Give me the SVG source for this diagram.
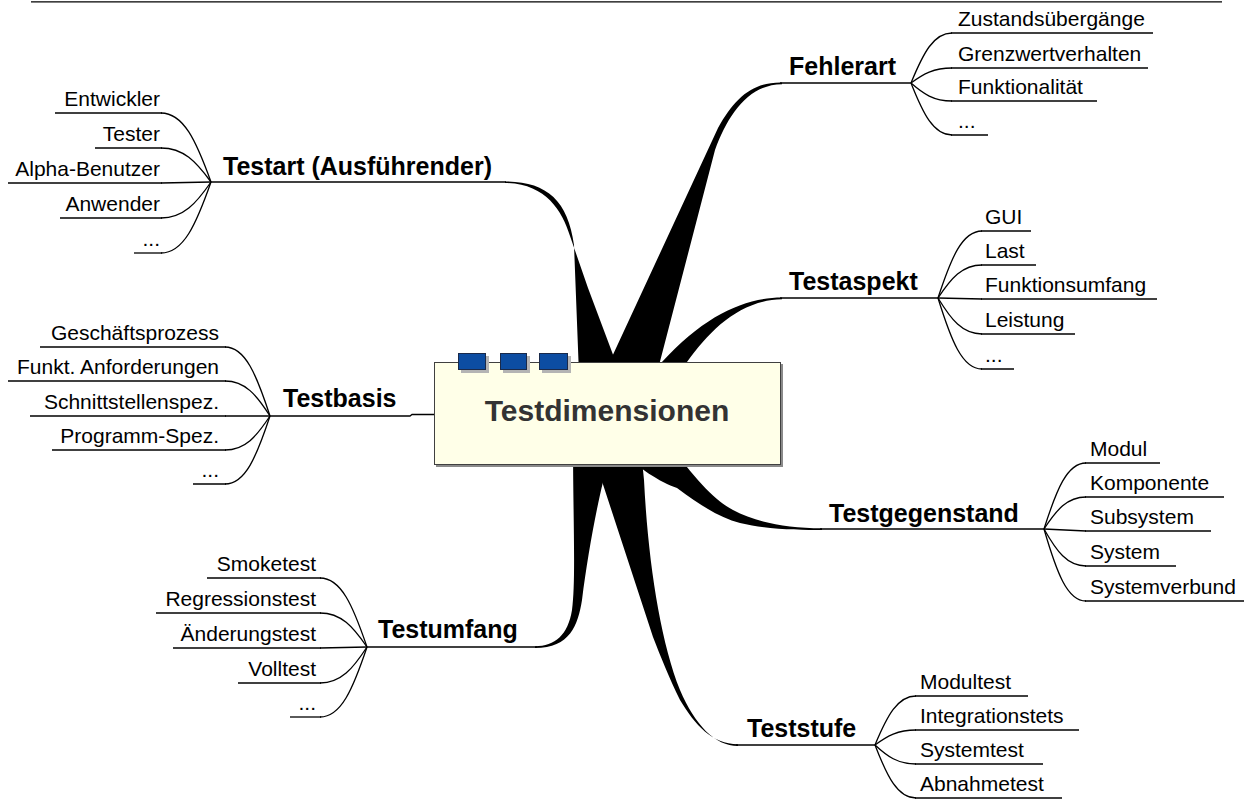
<svg xmlns="http://www.w3.org/2000/svg" width="1244" height="801" viewBox="0 0 1244 801">
<style>
.lbl{font-family:"Liberation Sans",Arial,sans-serif;font-weight:bold;font-size:25px;fill:#000}
.itm{font-family:"Liberation Sans",Arial,sans-serif;font-size:21px;fill:#000}
.end{text-anchor:end}
.ln{fill:none;stroke:#000;stroke-width:1.3}
.br{fill:#000;stroke:none}
.sq{fill:#0C4DA2;stroke:#1a2a4a;stroke-width:1}
.sqs{fill:#b4b4b4}
</style>
<rect width="1244" height="801" fill="#fff"/>
<line x1="31" y1="1.8" x2="1222" y2="1.8" stroke="#000" stroke-width="1.3"/>

<g id="connectors">
  <!-- main tapered branches -->
  <path class="br" d="M 505,181.5 C 546,181.5 568,200 574,245 L 580,400 L 630,400 L 588,288 L 570,236 C 562,210 545,183.5 505,183 Z"/>
  <path class="br" d="M 782,82.5 C 752,82 735,98 718,128 L 592,400 L 650,400 L 715,150 C 728,115 748,84.5 782,84.2 Z"/>
  <path class="br" d="M 782,297.5 C 745,297.5 705,315 662,362 L 625,400 L 660,400 L 687,362 C 710,330 740,300 782,299.3 Z"/>
  <path class="br" d="M 822,528.3 C 785,528 755,522 733,510 C 715,500 700,485 670,445 L 615,445 C 640,470 660,482 677,488 C 700,505 720,518 740,523 C 770,530 800,530 822,530 Z"/>
  <path class="br" d="M 738,744.3 C 712,744 695,725 680,700 C 670,680 660,655 653,637 L 595,460 L 595,440 L 640,440 L 644,480 C 648,560 660,640 680,690 C 695,725 715,746 738,746 Z"/>
  <path class="br" d="M 535,646.3 C 555,646 568,635 572,610 C 576,580 573,520 573,440 L 603,440 L 603,482 C 595,515 587,560 582,600 C 578,625 570,648 535,648 Z"/>
  <path class="ln" d="M 270,416 H 410 L 412,414.5 H 436"/>

  <!-- Fehlerart fan -->
  <path class="ln" d="M 911,83 C 923.3,53 933.6,33 952,33"/>
  <path class="ln" d="M 911,83 C 923.3,74 933.6,68 952,68"/>
  <path class="ln" d="M 911,83 C 923.3,93.8 933.6,101 952,101"/>
  <path class="ln" d="M 911,83 C 923.3,114.2 933.6,135 952,135"/>
  <!-- Testaspekt fan -->
  <path class="ln" d="M 938,298 C 951.2,257.8 962.2,231 982,231"/>
  <path class="ln" d="M 938,298 C 951.2,278.2 962.2,265 982,265"/>
  <path class="ln" d="M 938,298 L 982,299"/>
  <path class="ln" d="M 938,298 C 951.2,319.6 962.2,334 982,334"/>
  <path class="ln" d="M 938,298 C 951.2,340.6 962.2,369 982,369"/>
  <!-- Testgegenstand fan -->
  <path class="ln" d="M 1044,529 C 1056.6,489.4 1067.1,463 1086,463"/>
  <path class="ln" d="M 1044,529 C 1056.6,509.8 1067.1,497 1086,497"/>
  <path class="ln" d="M 1044,529 L 1086,531"/>
  <path class="ln" d="M 1044,529 C 1056.6,551.2 1067.1,566 1086,566"/>
  <path class="ln" d="M 1044,529 C 1056.6,572.2 1067.1,601 1086,601"/>
  <!-- Teststufe fan -->
  <path class="ln" d="M 875,745 C 887.3,715.6 897.6,696 916,696"/>
  <path class="ln" d="M 875,745 C 887.3,736 897.6,730 916,730"/>
  <path class="ln" d="M 875,745 C 887.3,756.4 897.6,764 916,764"/>
  <path class="ln" d="M 875,745 C 887.3,776.8 897.6,798 916,798"/>
  <!-- Testart fan -->
  <path class="ln" d="M 211,182 C 196,140.6 183.5,113 161,113"/>
  <path class="ln" d="M 211,182 C 196,161.6 183.5,148 161,148"/>
  <path class="ln" d="M 211,182 L 161,183"/>
  <path class="ln" d="M 211,182 C 196,203.6 183.5,218 161,218"/>
  <path class="ln" d="M 211,182 C 196,224.6 183.5,253 161,253"/>
  <!-- Testbasis fan -->
  <path class="ln" d="M 270,416 C 256.5,374.6 245.25,347 225,347"/>
  <path class="ln" d="M 270,416 C 256.5,395 245.25,381 225,381"/>
  <path class="ln" d="M 270,416 L 225,416"/>
  <path class="ln" d="M 270,416 C 256.5,436.4 245.25,450 225,450"/>
  <path class="ln" d="M 270,416 C 256.5,456.8 245.25,484 225,484"/>
  <!-- Testumfang fan -->
  <path class="ln" d="M 367,647 C 352.9,605.6 341.15,578 320,578"/>
  <path class="ln" d="M 367,647 C 352.9,626.6 341.15,613 320,613"/>
  <path class="ln" d="M 367,647 L 320,648"/>
  <path class="ln" d="M 367,647 C 352.9,668.6 341.15,683 320,683"/>
  <path class="ln" d="M 367,647 C 352.9,689 341.15,717 320,717"/>
</g>

<g id="center">
  <rect x="436" y="364" width="347" height="103" fill="#8a8a8a"/>
  <rect x="434.5" y="362.5" width="346" height="102" fill="#FFFFE8" stroke="#404040" stroke-width="1"/>
  <rect class="sqs" x="461" y="356" width="28" height="17"/>
  <rect class="sq" x="458.5" y="353.5" width="27" height="16"/>
  <rect class="sqs" x="503" y="356" width="27" height="17"/>
  <rect class="sq" x="500.5" y="353.5" width="26" height="16"/>
  <rect class="sqs" x="542" y="356" width="29" height="17"/>
  <rect class="sq" x="539.5" y="353.5" width="28" height="16"/>
  <text x="607" y="421" text-anchor="middle" style="font-family:'Liberation Sans',Arial,sans-serif;font-weight:bold;font-size:30px;fill:#333">Testdimensionen</text>
</g>

<g id="fehlerart">
  <line class="ln" x1="780" y1="83" x2="911" y2="83"/>
  <text class="lbl" x="789" y="75">Fehlerart</text>
</g>
<g id="fehlerart-items">
  <g id="f1"><line class="ln" x1="951" y1="33" x2="1153" y2="33"/><text class="itm" x="958" y="26">Zustandsübergänge</text></g>
  <g id="f2"><line class="ln" x1="951" y1="68" x2="1148" y2="68"/><text class="itm" x="958" y="61">Grenzwertverhalten</text></g>
  <g id="f3"><line class="ln" x1="951" y1="101" x2="1097" y2="101"/><text class="itm" x="958" y="94">Funktionalität</text></g>
  <g id="f4"><line class="ln" x1="951" y1="135" x2="988" y2="135"/><text class="itm" x="958" y="128">...</text></g>
</g>

<g id="testaspekt">
  <line class="ln" x1="780" y1="298" x2="938" y2="298"/>
  <text class="lbl" x="789" y="290">Testaspekt</text>
</g>
<g id="testaspekt-items">
  <g id="a1"><line class="ln" x1="981" y1="231" x2="1031" y2="231"/><text class="itm" x="985" y="224">GUI</text></g>
  <g id="a2"><line class="ln" x1="981" y1="265" x2="1036" y2="265"/><text class="itm" x="985" y="258">Last</text></g>
  <g id="a3"><line class="ln" x1="981" y1="299" x2="1157" y2="299"/><text class="itm" x="985" y="292">Funktionsumfang</text></g>
  <g id="a4"><line class="ln" x1="981" y1="334" x2="1075" y2="334"/><text class="itm" x="985" y="327">Leistung</text></g>
  <g id="a5"><line class="ln" x1="981" y1="369" x2="1014" y2="369"/><text class="itm" x="985" y="362">...</text></g>
</g>

<g id="testgegenstand">
  <line class="ln" x1="820" y1="529" x2="1044" y2="529"/>
  <text class="lbl" x="829" y="522">Testgegenstand</text>
</g>
<g id="testgegenstand-items">
  <g id="g1"><line class="ln" x1="1085" y1="463" x2="1160" y2="463"/><text class="itm" x="1090" y="456">Modul</text></g>
  <g id="g2"><line class="ln" x1="1085" y1="497" x2="1224" y2="497"/><text class="itm" x="1090" y="490">Komponente</text></g>
  <g id="g3"><line class="ln" x1="1085" y1="531" x2="1211" y2="531"/><text class="itm" x="1090" y="524">Subsystem</text></g>
  <g id="g4"><line class="ln" x1="1085" y1="566" x2="1176" y2="566"/><text class="itm" x="1090" y="559">System</text></g>
  <g id="g5"><line class="ln" x1="1085" y1="601" x2="1244" y2="601"/><text class="itm" x="1090" y="594">Systemverbund</text></g>
</g>

<g id="teststufe">
  <line class="ln" x1="736" y1="745" x2="875" y2="745"/>
  <text class="lbl" x="747" y="737">Teststufe</text>
</g>
<g id="teststufe-items">
  <g id="s1"><line class="ln" x1="915" y1="696" x2="1028" y2="696"/><text class="itm" x="920" y="689">Modultest</text></g>
  <g id="s2"><line class="ln" x1="915" y1="730" x2="1079" y2="730"/><text class="itm" x="920" y="723">Integrationstets</text></g>
  <g id="s3"><line class="ln" x1="915" y1="764" x2="1043" y2="764"/><text class="itm" x="920" y="757">Systemtest</text></g>
  <g id="s4"><line class="ln" x1="915" y1="798" x2="1062" y2="798"/><text class="itm" x="920" y="791">Abnahmetest</text></g>
</g>

<g id="testart">
  <line class="ln" x1="211" y1="182" x2="506" y2="182"/>
  <text class="lbl" x="223" y="175">Testart (Ausführender)</text>
</g>
<g id="testart-items">
  <g id="t1"><line class="ln" x1="55" y1="113" x2="162" y2="113"/><text class="itm end" x="160" y="106">Entwickler</text></g>
  <g id="t2"><line class="ln" x1="95" y1="148" x2="162" y2="148"/><text class="itm end" x="160" y="141">Tester</text></g>
  <g id="t3"><line class="ln" x1="8" y1="183" x2="162" y2="183"/><text class="itm end" x="160" y="176">Alpha-Benutzer</text></g>
  <g id="t4"><line class="ln" x1="60" y1="218" x2="162" y2="218"/><text class="itm end" x="160" y="211">Anwender</text></g>
  <g id="t5"><line class="ln" x1="134" y1="253" x2="162" y2="253"/><text class="itm end" x="160" y="246">...</text></g>
</g>

<g id="testbasis">
  <text class="lbl" x="283" y="407">Testbasis</text>
</g>
<g id="testbasis-items">
  <g id="b1"><line class="ln" x1="40" y1="347" x2="226" y2="347"/><text class="itm end" x="219" y="340">Geschäftsprozess</text></g>
  <g id="b2"><line class="ln" x1="8" y1="381" x2="226" y2="381"/><text class="itm end" x="219" y="374">Funkt. Anforderungen</text></g>
  <g id="b3"><line class="ln" x1="30" y1="416" x2="226" y2="416"/><text class="itm end" x="219" y="409">Schnittstellenspez.</text></g>
  <g id="b4"><line class="ln" x1="52" y1="450" x2="226" y2="450"/><text class="itm end" x="219" y="443">Programm-Spez.</text></g>
  <g id="b5"><line class="ln" x1="193" y1="484" x2="226" y2="484"/><text class="itm end" x="219" y="477">...</text></g>
</g>

<g id="testumfang">
  <line class="ln" x1="367" y1="647" x2="537" y2="647"/>
  <text class="lbl" x="378" y="638">Testumfang</text>
</g>
<g id="testumfang-items">
  <g id="u1"><line class="ln" x1="207" y1="578" x2="321" y2="578"/><text class="itm end" x="316" y="571">Smoketest</text></g>
  <g id="u2"><line class="ln" x1="156" y1="613" x2="321" y2="613"/><text class="itm end" x="316" y="606">Regressionstest</text></g>
  <g id="u3"><line class="ln" x1="173" y1="648" x2="321" y2="648"/><text class="itm end" x="316" y="641">Änderungstest</text></g>
  <g id="u4"><line class="ln" x1="238" y1="683" x2="321" y2="683"/><text class="itm end" x="316" y="676">Volltest</text></g>
  <g id="u5"><line class="ln" x1="290" y1="717" x2="321" y2="717"/><text class="itm end" x="316" y="710">...</text></g>
</g>
</svg>
